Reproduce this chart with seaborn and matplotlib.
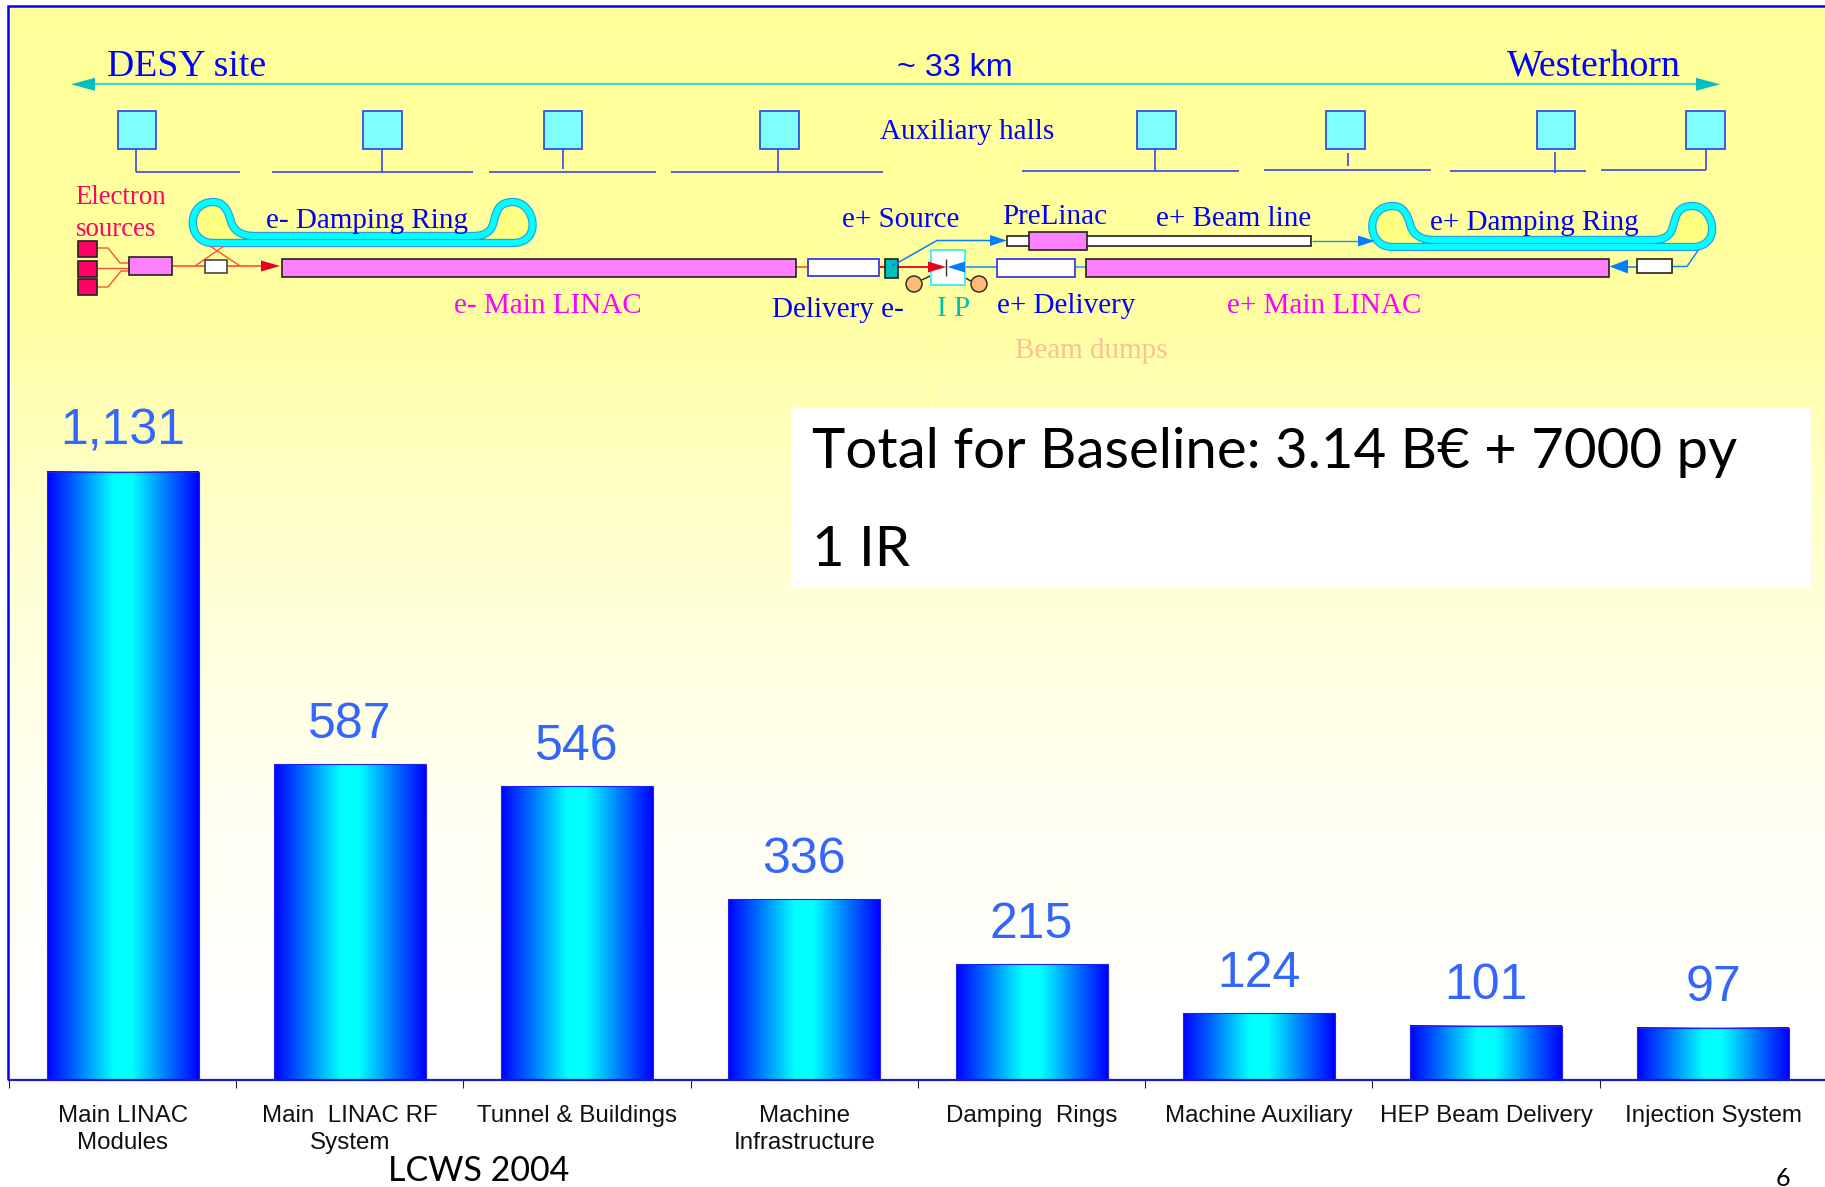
import numpy as np
import pandas as pd
import matplotlib
matplotlib.use("Agg")
import matplotlib.pyplot as plt
from matplotlib.colors import LinearSegmentedColormap
from matplotlib.patches import Rectangle, Polygon, Circle, PathPatch
from matplotlib.path import Path
import seaborn as sns

# Cost per subsystem
categories = ["Main LINAC\nModules", "Main  LINAC RF\nSystem", "Tunnel & Buildings",
              "Machine\nInfrastructure", "Damping  Rings", "Machine Auxiliary",
              "HEP Beam Delivery", "Injection System"]
costs = [1131, 587, 546, 336, 215, 124, 101, 97]

W, H = 1825, 1187
BLUE = "#0000FF"
AZURE = "#0080FF"
RED = "#E8001C"
PINK = "#FF80FF"
HOT = "#FF0066"
SERIF = "Liberation Serif"
SANS = "Liberation Sans"
HAND = "Lato"

sns.set_theme(style="white")
fig = plt.figure(figsize=(W / 100, H / 100), dpi=100, facecolor="white")

# Page layer in pixel coordinates: background wash and the site layout
page = fig.add_axes([0, 0, 1, 1], zorder=0)
page.set_xlim(0, W)
page.set_ylim(H, 0)
page.axis("off")

wash = LinearSegmentedColormap.from_list(
    "wash", [(0, "#FFFF99"), (0.27, "#FFFFA0"), (0.46, "#FFFFC8"), (0.65, "#FFFFE6"),
             (0.79, "#FFFFF6"), (0.93, "#FFFFFE"), (1, "#FFFFFF")])
page.imshow(np.linspace(0, 1, 256)[:, None], cmap=wash, aspect="auto",
            extent=(9, W, 1079, 6), zorder=0)
page.set_xlim(0, W)
page.set_ylim(H, 0)
page.plot([8, 8, W], [1079, 6, 6], color=BLUE, lw=1.8, zorder=1, solid_joinstyle="miter")


def box(x0, x1, y0, y1, fc, ec="#222222", lw=1.2, z=3):
    page.add_patch(Rectangle((x0, y0), x1 - x0, y1 - y0, fc=fc, ec=ec, lw=lw, zorder=z))


def line(xs, ys, color, lw=1.0, z=2):
    page.plot(xs, ys, color=color, lw=lw, zorder=z, solid_capstyle="butt")


def head(tip, base, y, half, color, z=4):
    page.add_patch(Polygon([(tip, y), (base, y - half), (base, y + half)],
                           closed=True, fc=color, ec="none", zorder=z))


def label(x, y, s, color=BLUE, size=21, family=SERIF):
    page.text(x, y, s, color=color, fontsize=size, family=family, ha="left", va="center", zorder=6)


# Site length arrow
line([90, 1700], [84.3, 84.3], "#40D8C8", 1.6)
head(71, 95, 84.3, 6.5, "#00BFBF")
head(1720, 1696, 84.3, 6.5, "#00BFBF")

# Auxiliary halls with their service lines
halls = [(118, 156), (363, 402), (544.5, 582), (760.5, 799),
         (1137, 1176), (1326, 1365), (1537, 1575), (1686, 1725)]
for x0, x1 in halls:
    box(x0, x1, 111, 148.5, "#80FFFF", "#2A40F0", 1.2)
runs = [(135.6, 240, 171.7), (272, 473, 171.7), (489.5, 656.5, 171.7), (671, 883.5, 172),
        (1022, 1238.6, 171), (1264, 1431, 170), (1450, 1586, 170.5), (1601, 1706, 170)]
for x0, x1, y in runs:
    line([x0, x1], [y, y], "#3848E8", 1.2)
stems = [(135.6, 148, 171.7), (382.4, 148, 171.7), (563, 148, 169), (778, 149, 172),
         (1155, 149, 171), (1348, 153, 166), (1555, 152, 173), (1706, 149, 170)]
for x, y0, y1 in stems:
    line([x, x], [y0, y1], "#3848E8", 1.2)


def ring(dx, dy):
    """Racetrack with two end loops, stroked as a tube around a pale core."""
    v = [(213, 243), (340, 243), (513, 243),
         (543, 243), (535, 202), (513, 202),
         (492, 202), (497, 222), (490, 230),
         (484, 236), (478, 236), (470, 236),
         (350, 236), (255, 236),
         (240, 236), (234, 230), (231, 222),
         (227, 205), (220, 202), (213, 202),
         (186, 202), (186, 243), (213, 243)]
    codes = [Path.MOVETO, Path.CURVE3, Path.CURVE3] + [Path.CURVE4] * 9 + [Path.CURVE3, Path.CURVE3] + [Path.CURVE4] * 9
    p = Path([(x + dx, y + dy) for x, y in v], codes)
    page.add_patch(PathPatch(p, fc="#FFFF80", ec="#2A9CF0", lw=6.0, zorder=2, joinstyle="round"))
    page.add_patch(PathPatch(p, fc="none", ec="#00FFFF", lw=4.3, zorder=2.1, joinstyle="round"))


ring(0, 0)
ring(1179.5, 4)

# Electron side of the beam line
for y0, y1 in [(241, 257), (261, 277), (279, 295)]:
    box(78, 97, y0, y1, HOT)
feed = "#FF5030"
line([97, 108, 120, 129], [248, 248, 263, 263], feed)
line([97, 129], [267.5, 267.5], feed)
line([97, 108, 121, 129], [287, 287, 271, 271], feed)
box(129, 172, 257, 275, PINK)
line([172, 262], [266, 266], feed, 1.2)
line([195, 224], [266, 246], feed)
line([240, 210], [266, 246], feed)
box(205, 227, 260, 273, "white", "#444444")
head(280, 261, 266, 5.5, RED)
box(282, 796, 258.5, 276.5, PINK)
line([796, 808], [267, 267], feed, 1.2)
box(808, 879, 258.5, 276, "white", "#3838F0", 1.3)

# Interaction region
box(930.6, 964.6, 250, 285, "white", "#40F0FF", 1.4)
line([879, 930], [267, 267], RED, 1.3)
head(946, 928, 267, 5.5, RED)
line([946.4, 946.4], [259, 276], "#333333", 1.0, 5)
head(947.5, 965, 267, 5.5, AZURE)
line([964.6, 997], [267, 267], "#2090E8", 1.2)
box(885, 898.5, 258.5, 277.5, "#00BFBF")
line([892, 937, 992], [266, 240.5, 240.5], AZURE, 1.1, 4)
head(1007, 990, 240.5, 5.5, AZURE)
for cx in (914, 979):
    page.add_patch(Circle((cx, 284), 8, fc="#FFBB77", ec="#222222", lw=1, zorder=4))
line([921.7, 930], [280, 276], "#222222", 1.0)
line([965, 970.7], [277.7, 281], "#222222", 1.0)
for x in (928, 935):
    line([x, x], [336, 408], "#FFFFA0", 0.8)

# Positron side of the beam line
box(996.6, 1075, 258.5, 276.5, "white", "#3838F0", 1.3)
line([1075, 1086], [267, 267], "#40A0E0", 1.2)
box(1086, 1609.5, 258.5, 276.5, PINK)
head(1609.5, 1628, 266.5, 7, AZURE)
line([1628, 1637], [266.5, 266.5], AZURE, 1.1)
box(1637, 1672, 259, 272.7, "white")
line([1672, 1687, 1699], [266.5, 266.5, 249], AZURE, 1.0)
box(1007, 1310.6, 235.7, 245.7, "white")
box(1029.4, 1087, 231.7, 250, PINK)
line([1312, 1360], [241, 241], "#2090E8", 1.0)
head(1375, 1358, 241, 5.5, AZURE)

# Layout captions
label(107, 67, "DESY site", size=27.2)
label(1507, 67, "Westerhorn", size=27.3)
label(897, 68, "~ 33 km", size=23.2, family=SANS)
label(880, 132, "Auxiliary halls")
label(75.5, 198, "Electron", HOT, 19.4)
label(75.5, 230, "sources", HOT, 19.4)
label(265.7, 221, "e- Damping Ring")
label(454, 306, "e- Main LINAC", "#FF00FF")
label(842.4, 220, "e+ Source")
label(1002, 217, "PreLinac")
label(1156, 219.5, "e+ Beam line")
label(1430, 223, "e+ Damping Ring")
label(772, 310, "Delivery e-")
label(937, 309, "I P", "#00BFAF")
label(997.4, 306, "e+ Delivery")
label(1226.7, 306, "e+ Main LINAC", "#FF00FF")
label(1015, 351, "Beam dumps", "#FFC090")

# Headline panel
box(791, 1811, 408, 588, "white", "none", 0, 5)
label(812, 453, "Total for Baseline: 3.14 B€ + 7000 py", "black", 40.6, HAND)
label(812, 550, "1 IR", "black", 40.6, HAND)

# Footer
fig.text(388 / W, 1 - 1171 / H, "LCWS 2004", color="black", fontsize=24.5, family=HAND, ha="left", va="center")
fig.text(1783 / W, 1 - 1178 / H, "6", color="black", fontsize=18, family=HAND, ha="center", va="center")

# Cost bars
px_per_unit = 0.538
y_top = 1200
left, right, base = 9, 1827, 1080
ax = fig.add_axes([left / W, (H - base) / H, (right - left) / W, y_top * px_per_unit / H], zorder=1)
ax.patch.set_alpha(0)
df = pd.DataFrame({"category": categories, "cost": costs})
sns.barplot(data=df, x="category", y="cost", width=152 / 227.25, color=BLUE, ax=ax)

tube = LinearSegmentedColormap.from_list(
    "tube", [(0, BLUE), (0.2, "#0070FF"), (0.33, "#00C0FF"), (0.44, "#00FFFF"),
             (0.56, "#00FFFF"), (0.67, "#00C0FF"), (0.8, "#0070FF"), (1, BLUE)])
for bar in ax.containers[0]:
    x0, w, h = bar.get_x(), bar.get_width(), bar.get_height()
    ax.imshow(np.linspace(0, 1, 256)[None, :], cmap=tube, aspect="auto",
              extent=(x0, x0 + w, 0, h), zorder=2)
    bar.set_facecolor("none")
    bar.set_edgecolor("#2222F0")
    bar.set_linewidth(0.8)
    bar.set_zorder(3)

ax.set_xlim(-0.5, len(categories) - 0.5)
ax.set_ylim(0, y_top)
ax.bar_label(ax.containers[0], labels=[f"{v:,}" for v in costs], padding=12,
             color="#3366FF", fontsize=36, family=SANS, zorder=5)

ax.set_xlabel("")
ax.set_ylabel("")
ax.set_yticks([])
ax.set_xticks(range(len(categories)))
ax.set_xticklabels(categories, fontsize=17.4, family=SANS, color="#111111", linespacing=1.3)
ax.set_xticks(np.arange(len(categories) + 1) - 0.5, minor=True)
ax.tick_params(axis="x", which="major", length=0, pad=18)
ax.tick_params(axis="x", which="minor", length=6, width=0.8, color="#222222", bottom=True)
for side in ("top", "right", "left"):
    ax.spines[side].set_visible(False)
ax.spines["bottom"].set_color("#1A1AC0")
ax.spines["bottom"].set_linewidth(1.6)

fig.savefig("out.png", dpi=100)
